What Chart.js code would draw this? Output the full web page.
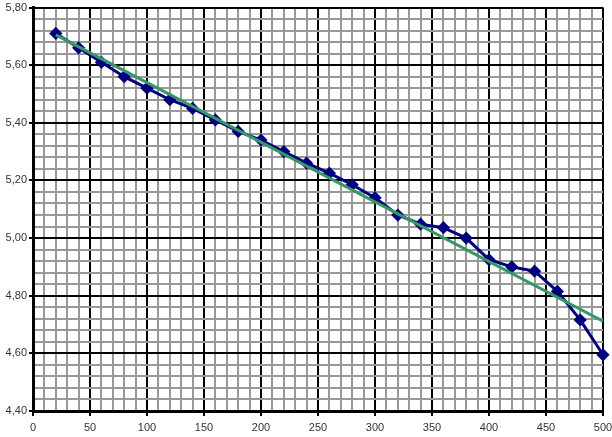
<!DOCTYPE html>
<html><head><meta charset="utf-8">
<script src="https://cdn.jsdelivr.net/npm/chart.js@4"></script>
<style>html,body{margin:0;padding:0;background:#fff}#c{display:block}</style>
</head><body>
<canvas id="c" width="612" height="437"></canvas>
<script>
const xValues = [20,40,60,80,100,120,140,160,180,200,220,240,260,280,300,320,340,360,380,400,420,440,460,480,500];
const yValues = [5.71,5.66,5.61,5.56,5.52,5.48,5.45,5.41,5.37,5.34,5.30,5.26,5.225,5.185,5.14,5.08,5.048,5.036,5.00,4.925,4.90,4.885,4.815,4.716,4.595];
const trendX = [20,500];
const trendY = [5.705,4.712];
const xTickLabels = [0,50,100,150,200,250,300,350,400,450,500];
const yTickLabels = ['4,40','4,60','4,80','5,00','5,20','5,40','5,60','5,80'];

const isMajorX = v => Math.round(v) % 50 === 0;
const isMajorY = v => Math.round(v*100) % 20 === 0;

new Chart(document.getElementById('c'), {
  type: 'scatter',
  data: {
    datasets: [
      {
        data: xValues.map((x,i)=>({x, y: yValues[i]})),
        showLine: true, borderColor: '#000080', backgroundColor: '#000080', clip: false,
        borderWidth: 3, pointStyle: 'rectRot', pointRadius: 4.5, pointHoverRadius: 4.5, order: 2
      },
      {
        data: trendX.map((x,i)=>({x, y: trendY[i]})),
        showLine: true, borderColor: '#339966', borderWidth: 3, pointRadius: 0, order: 1
      }
    ]
  },
  options: {
    responsive: false, animation: false,
    layout: { padding: { top: 4, right: 9, left: 0, bottom: 0 } },
    plugins: { legend: { display: false }, tooltip: { enabled: false } },
    scales: {
      x: {
        type: 'linear', min: 0, max: 500,
        afterFit: s => { s.height = 26; s.paddingRight = 0; s.paddingLeft = 0; },
        ticks: {
          stepSize: 10, autoSkip: false, maxRotation: 0, padding: 5,
          color: '#333', font: { family: 'Liberation Sans, Arial', size: 11 },
          callback: v => isMajorX(v) && xTickLabels.includes(Math.round(v)) ? String(Math.round(v)) : ''
        },
        grid: {
          color: c => isMajorX(c.tick.value) ? '#000' : '#999',
          lineWidth: 2, tickLength: 5,
          tickColor: c => isMajorX(c.tick.value) ? '#000' : 'rgba(0,0,0,0)'
        },
        border: { color: '#000', width: 3 }
      },
      y: {
        type: 'linear', min: 4.4, max: 5.8,
        afterFit: s => { s.width = 33; s.paddingTop = 0; s.paddingBottom = 0; },
        ticks: {
          stepSize: 0.04, autoSkip: false, padding: 2,
          color: '#333', font: { family: 'Liberation Sans, Arial', size: 11 },
          callback: v => {
            if (!isMajorY(v)) return '';
            const idx = Math.round((v - 4.4) / 0.2);
            return yTickLabels[idx] ?? '';
          }
        },
        grid: {
          color: c => isMajorY(c.tick.value) ? '#000' : '#999',
          lineWidth: 2, tickLength: 4,
          tickColor: c => isMajorY(c.tick.value) ? '#000' : 'rgba(0,0,0,0)'
        },
        border: { color: '#000', width: 3 }
      }
    }
  }
});
</script>
</body></html>
